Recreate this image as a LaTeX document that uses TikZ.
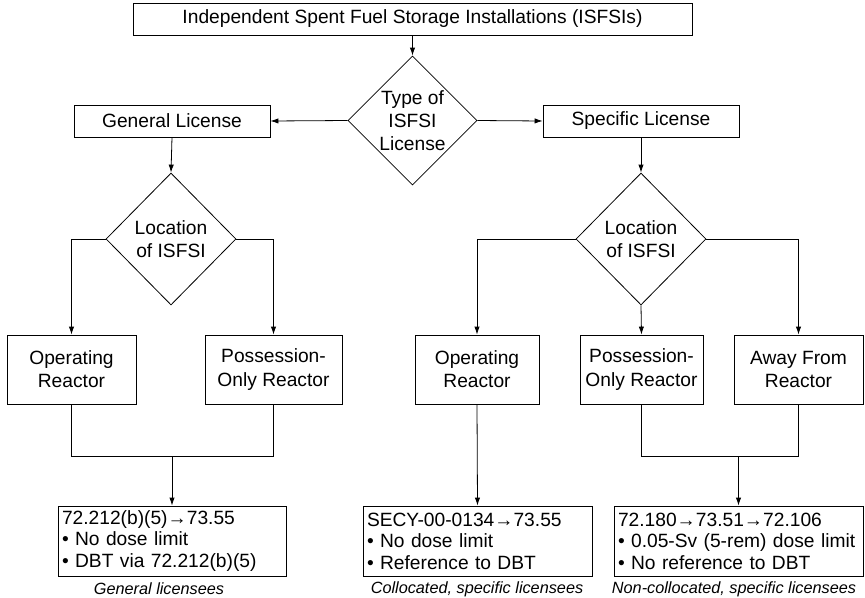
\documentclass[tikz,border=0pt]{standalone}
\usepackage{fontspec}
\setmainfont{Liberation Sans}
\usetikzlibrary{shapes.geometric,arrows.meta}
\tikzset{
  base/.style={draw, line width=0.6pt, inner sep=0pt, align=center,
    font=\fontsize{14.4pt}{17.4pt}\selectfont},
  box/.style={base, rectangle},
  dia/.style={base, diamond},
  res/.style={draw, line width=0.6pt, rectangle, inner xsep=3pt, inner ysep=0pt,
    align=left, minimum height=52.5pt,
    font=\fontsize{14.4pt}{16.2pt}\selectfont},
  captext/.style={inner sep=0pt, font=\fontsize{12.2pt}{14pt}\selectfont\itshape},
  ln/.style={line width=0.6pt},
  arr/.style={ln, -{Latex[length=6pt,width=4pt]}}
}
\begin{document}
\begin{tikzpicture}[x=0.75pt,y=-0.75pt]
\useasboundingbox (0,0) rectangle (865,597);
% top
\node[box, minimum width=559*0.75pt, minimum height=32*0.75pt] (top) at (412.5,19)
  {Independent Spent Fuel Storage Installations (ISFSIs)};
\node[dia, minimum width=129*0.75pt, minimum height=129*0.75pt] (type) at (412.5,120.5)
  {Type of\\ISFSI\\License};
\node[box, minimum width=196*0.75pt, minimum height=32*0.75pt] (gen) at (172,121) {General License};
\node[box, minimum width=196*0.75pt, minimum height=32*0.75pt] (spec) at (641,121) {Specific License};
% location diamonds
\node[dia, minimum width=130*0.75pt, minimum height=132*0.75pt] (locL) at (171,239) {Location\\of ISFSI};
\node[dia, minimum width=130*0.75pt, minimum height=132*0.75pt] (locR) at (641,239) {Location\\of ISFSI};
% reactor boxes
\node[box, minimum width=129*0.75pt, minimum height=69*0.75pt] (lop) at (71.5,369.5) {Operating\\Reactor};
\node[box, minimum width=137*0.75pt, minimum height=69*0.75pt] (lpos) at (273.5,369.5) {Possession-\\Only Reactor};
\node[box, minimum width=124*0.75pt, minimum height=69*0.75pt] (rop) at (477,369.5) {Operating\\Reactor};
\node[box, minimum width=123*0.75pt, minimum height=69*0.75pt] (rpos) at (641.5,369.5) {Possession-\\Only Reactor};
\node[box, minimum width=129*0.75pt, minimum height=69*0.75pt] (raway) at (798.5,369.5) {Away From\\Reactor};
% result boxes
\node[res, text width=165pt] (b1) at (172,541)
  {72.212(b)(5)→73.55\\• No dose limit\\• DBT via 72.212(b)(5)};
\node[res, text width=165.75pt] (b2) at (477.5,541)
  {SECY-00-0134→73.55\\• No dose limit\\• Reference to DBT};
\node[res, text width=180.75pt] (b3) at (738.5,541)
  {72.180→73.51→72.106\\• 0.05-Sv (5-rem) dose limit\\• No reference to DBT};
% captions
\node[captext] (c1) at (159,589) {General licensees};
\node[captext] (c2) at (477,589) {Collocated, specific licensees};
\node[captext] (c3) at (734,589) {Non-collocated, specific licensees};
% connectors
\draw[arr] (top.south) -- (type.north);
\draw[arr] (type.west) -- (gen.east);
\draw[arr] (type.east) -- (spec.west);
\draw[arr] (gen.south) -- (locL.north);
\draw[arr] (spec.south) -- (locR.north);
\draw[arr] (locL.west) -| (lop.north);
\draw[arr] (locL.east) -| (lpos.north);
\draw[arr] (locR.west) -| (rop.north);
\draw[arr] (locR.south) -- (rpos.north);
\draw[arr] (locR.east) -| (raway.north);
\coordinate (jL) at (172,456);
\coordinate (jR) at (738.5,456);
\draw[ln] (lop.south) |- (jL);
\draw[ln] (lpos.south) |- (jL);
\draw[arr] (jL) -- (b1.north);
\draw[arr] (rop.south) -- (b2.north);
\draw[ln] (rpos.south) |- (jR);
\draw[ln] (raway.south) |- (jR);
\draw[arr] (jR) -- (b3.north);
\end{tikzpicture}
\end{document}
